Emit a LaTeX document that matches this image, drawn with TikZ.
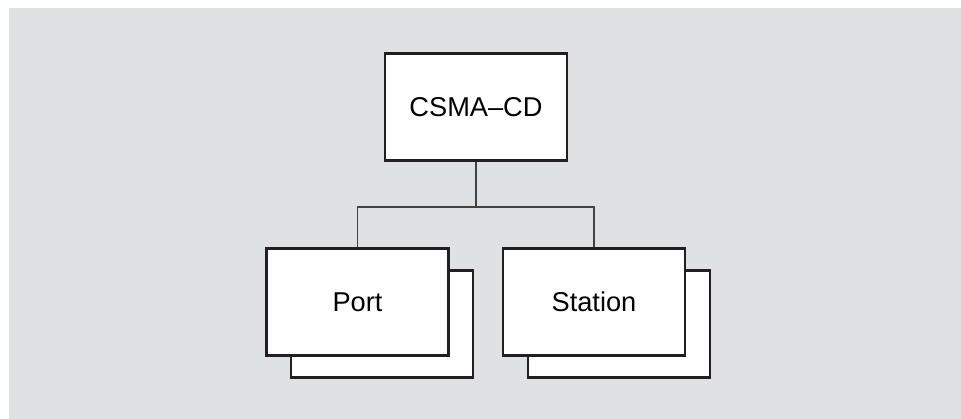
\documentclass[tikz,border=0pt]{standalone}
\usepackage{fontspec}
\setmainfont{Liberation Sans}
\usetikzlibrary{arrows}
\definecolor{bggray}{HTML}{E0E1E3}
\definecolor{ink}{HTML}{231F20}
\tikzset{bx/.append style={draw=ink,fill=white,line width=1.3pt,minimum width=3.64cm,minimum height=2.14cm,inner sep=0pt,font=\fontsize{15.5}{18}\selectfont}}
\tikzset{ln/.append style={draw=ink!85,line width=0.6pt}}

\begin{document}
\begin{tikzpicture}[x=0.02cm,y=-0.02cm]
                % background
                \useasboundingbox (0,0) rectangle (961,419);
                \fill[bggray] (9,8) rectangle (961,419);
                % boxes
                \node[bx] (portback) at (382,324) {};
                \node[bx] (stationback) at (619,324) {};
                \node[bx] (csma) at (476,107) {CSMA--CD};
                \node[bx] (port) at (357.5,302) {Port};
                \node[bx] (station) at (594,302) {Station};
                \coordinate (split) at (476,207);
                \path (csma) edge[ln] (split);
                \draw[ln] (port.north) |- (split) -| (station.north);
            \end{tikzpicture}
\end{document}
